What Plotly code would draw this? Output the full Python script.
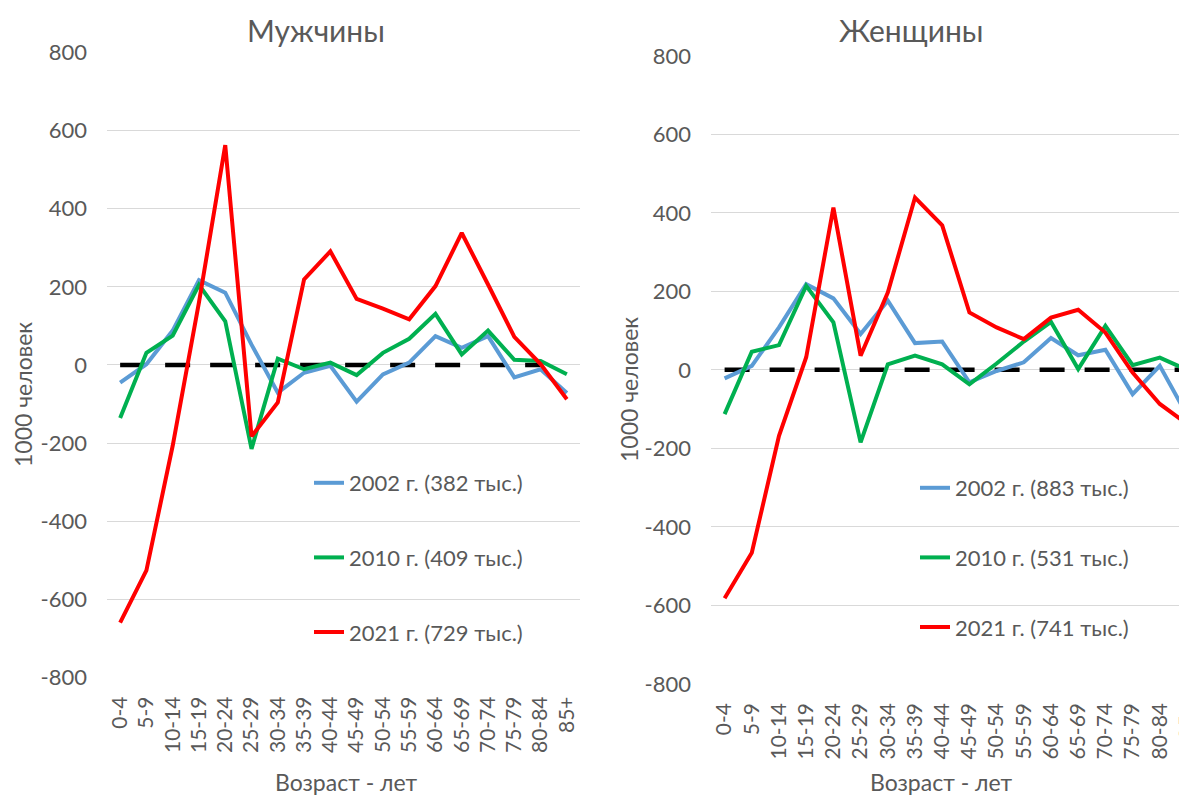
import plotly.graph_objects as go

ages = ["0-4", "5-9", "10-14", "15-19", "20-24", "25-29", "30-34", "35-39", "40-44",
        "45-49", "50-54", "55-59", "60-64", "65-69", "70-74", "75-79", "80-84", "85+"]

# Мужчины
men_2002 = [-45, 2, 88, 217, 185, 52, -71, -20, -2, -94, -24, 6, 74, 44, 74, -32, -11, -72]
men_2010 = [-136, 31, 75, 205, 112, -215, 16, -11, 6, -26, 31, 67, 131, 27, 88, 13, 10, -24]
men_2021 = [-660, -526, -207, 160, 563, -183, -96, 219, 291, 169, 144, 117, 202, 338, 206, 72, 2, -88]

# Женщины
women_2002 = [-22, 10, 108, 218, 182, 91, 176, 68, 72, -32, -3, 19, 81, 37, 51, -62, 10, -115]
women_2010 = [-113, 46, 63, 214, 121, -185, 14, 36, 14, -37, 16, 72, 122, 2, 112, 12, 31, 0]
women_2021 = [-582, -466, -168, 32, 413, 36, 197, 439, 368, 146, 108, 78, 133, 153, 95, -7, -87, -138]

zero_men = [0] * 17
zero_women = [0] * 18

men_names = ["2002 г. (382 тыс.)", "2010 г. (409 тыс.)", "2021 г. (729 тыс.)"]
women_names = ["2002 г. (883 тыс.)", "2010 г. (531 тыс.)", "2021 г. (741 тыс.)"]
colors = ["#5B9BD5", "#00B050", "#FF0000"]

yticks = [-800, -600, -400, -200, 0, 200, 400, 600, 800]
yticktext = [str(v) for v in yticks]

# page body has an 8px default margin: the figure is offset by it
OFF = 8
VW, VH = 1187, 798
W, H = VW - OFF, VH - OFF
FONT = "Lato, 'Open Sans', sans-serif"
GREY = "#595959"

fig = go.Figure()

# zero dashed lines
fig.add_trace(go.Scatter(x=ages[:17], y=zero_men, mode="lines", xaxis="x", yaxis="y",
                         line=dict(color="black", width=4.5, dash="25px,20px"),
                         showlegend=False, hoverinfo="skip"))
fig.add_trace(go.Scatter(x=ages, y=zero_women, mode="lines", xaxis="x2", yaxis="y2",
                         line=dict(color="black", width=4.5, dash="25px,20px"),
                         showlegend=False, hoverinfo="skip"))

for i, (vals, name) in enumerate(zip([men_2002, men_2010, men_2021], men_names)):
    fig.add_trace(go.Scatter(x=ages, y=vals, mode="lines", name=name, xaxis="x", yaxis="y",
                             line=dict(color=colors[i], width=4), legend="legend",
                             legendgroup="m%d" % i))
for i, (vals, name) in enumerate(zip([women_2002, women_2010, women_2021], women_names)):
    fig.add_trace(go.Scatter(x=ages, y=vals, mode="lines", name=name, xaxis="x2", yaxis="y2",
                             line=dict(color=colors[i], width=4), legend="legend2",
                             legendgroup="w%d" % i))

def px_x(p):
    return (p - OFF) / W

def px_y(p):
    return 1 - (p - OFF) / H

xcommon = dict(type="category", showgrid=False, tickangle=-90, showline=False, zeroline=False,
               ticks="", automargin=False, ticklabelstandoff=14,
               tickmode="array", tickvals=ages, ticktext=ages,
               tickfont=dict(family=FONT, size=21, color=GREY))
ycommon = dict(range=[-800, 800], tickvals=yticks, ticktext=yticktext, showgrid=True,
               gridcolor="#D9D9D9", gridwidth=1, showline=False, zeroline=False, ticks="",
               automargin=False, ticklabelstandoff=19,
               tickfont=dict(family=FONT, size=22, color=GREY))

legfont = dict(family=FONT, size=22, color=GREY)

def ann(text, x, y, size, angle=0):
    return dict(text=text, x=px_x(x), y=px_y(y), xref="paper", yref="paper",
                xanchor="center", yanchor="middle", showarrow=False, textangle=angle,
                font=dict(family=FONT, size=size, color=GREY))

fig.update_layout(
    width=W, height=H,
    margin=dict(l=0, r=0, t=0, b=0, autoexpand=False),
    paper_bgcolor="white", plot_bgcolor="white",
    font=dict(family=FONT, color=GREY),
    xaxis=dict(domain=[px_x(107), px_x(580)], anchor="y", range=[-0.5, 17.5], **xcommon),
    yaxis=dict(domain=[px_y(677.3), px_y(52.6)], anchor="x", **ycommon),
    xaxis2=dict(domain=[px_x(711), 1.0], anchor="y2", range=[-0.5, 17.0], **xcommon),
    yaxis2=dict(domain=[px_y(683.8), px_y(55.8)], anchor="x2", **ycommon),
    legend=dict(x=px_x(309), y=px_y(462), xanchor="left", yanchor="top",
                bgcolor="rgba(0,0,0,0)", font=legfont, tracegroupgap=43),
    legend2=dict(x=px_x(915), y=px_y(467), xanchor="left", yanchor="top",
                 bgcolor="rgba(0,0,0,0)", font=legfont, tracegroupgap=38),
    annotations=[
        ann("Мужчины", 316, 30, 30),
        ann("Женщины", 911, 30, 30),
        ann("1000 человек", 23, 395, 23, -90),
        ann("1000 человек", 629, 390, 23, -90),
        ann("Возраст - лет", 346, 782, 23),
        ann("Возраст - лет", 941, 782, 23),
    ],
)

fig.write_html("out.html")
